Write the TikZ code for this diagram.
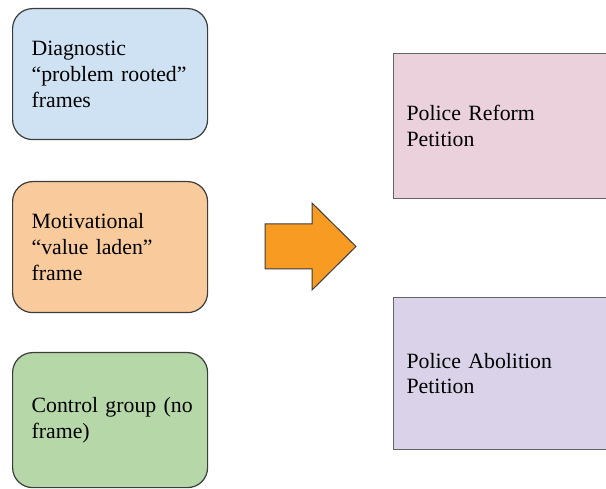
\documentclass[tikz,border=0pt]{standalone}
\usepackage{fontspec}
\setmainfont{Liberation Serif}
\definecolor{diagblue}{RGB}{207, 226, 243}
\definecolor{motivorange}{RGB}{249, 203, 156}
\definecolor{controlgreen}{RGB}{182, 215, 168}
\definecolor{reformpink}{RGB}{234, 209, 220}
\definecolor{abolitionlilac}{RGB}{217, 210, 233}
\definecolor{arroworange}{RGB}{247, 155, 34}
\definecolor{edgegray}{RGB}{60, 60, 60}
\usetikzlibrary{positioning}

\begin{document}
\begin{tikzpicture}[x=1pt, y=-1pt,
    framebox/.style={draw=edgegray, line width=1.2pt, rounded corners=20pt, anchor=north west,
                     text width=157pt, inner xsep=19pt, inner ysep=0pt, minimum height=131pt,
                     align=left, font=\fontsize{21.8}{26}\selectfont},
    petitionbox/.style={draw=edgegray!80, line width=1.2pt, anchor=north west,
                        text width=194pt, inner xsep=13pt, inner ysep=0pt,
                        align=left, font=\fontsize{21.8}{25.5}\selectfont}]
    \useasboundingbox (0, 0) rectangle (606, 489);
    \clip (0, 0) rectangle (606, 489);
    % frame conditions
    \node[framebox, fill=diagblue] (diagnostic) at (12, 8) {Diagnostic\\“problem rooted”\\frames};
    \node[framebox, fill=motivorange] (motivational) at (12, 181) {Motivational\\“value laden”\\frame};
    \node[framebox, fill=controlgreen, minimum height=135pt] (control) at (12, 352) {\mbox{Control group (no}\\frame)};
    % arrow
    \draw[edgegray, line width=1pt, fill=arroworange]
        (265, 224) -- (312, 224) -- (312, 203) -- (356, 246.5) -- (312, 290) -- (312, 269) -- (265, 269) -- cycle;
    % petitions
    \node[petitionbox, fill=reformpink, minimum height=145pt] (reform) at (393, 53) {Police Reform\\Petition};
    \node[petitionbox, fill=abolitionlilac, minimum height=152pt] (abolition) at (393, 297) {Police Abolition\\Petition};
\end{tikzpicture}
\end{document}
